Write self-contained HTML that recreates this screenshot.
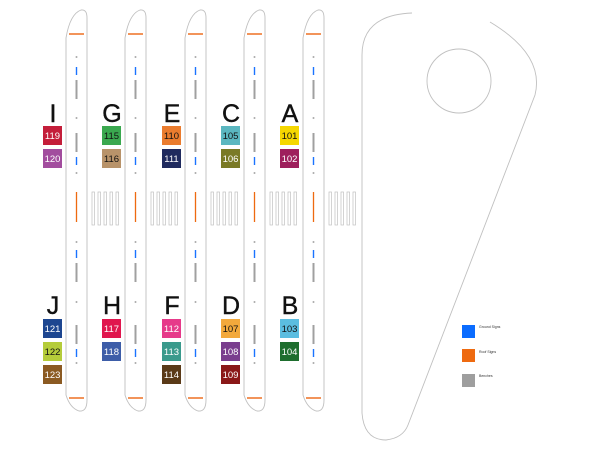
<!DOCTYPE html>
<html><head><style>body{margin:0;background:#fff}svg{display:block}</style></head><body>
<svg width="600" height="450" viewBox="0 0 600 450" xmlns="http://www.w3.org/2000/svg" font-family="Liberation Sans, sans-serif">
<defs>
<g id="plat">
<path d="M0,38 Q4,14 15,10 Q21,9 21,18 L21,400 Q21,412 13,411 Q4,408 0,395 Z" fill="#fff" stroke="#c0c0c0" stroke-width="0.9"/>
<line x1="3" y1="34" x2="18" y2="34" stroke="#ee7a30" stroke-width="1.6"/>
<line x1="3" y1="398" x2="18" y2="398" stroke="#ee7a30" stroke-width="1.6"/>
<line x1="10.5" y1="192" x2="10.5" y2="222" stroke="#ee6a10" stroke-width="1.3"/>
<g stroke="#1a73ff" stroke-width="1.4"><line x1="10.5" y1="67" x2="10.5" y2="75"/><line x1="10.5" y1="157" x2="10.5" y2="165"/><line x1="10.5" y1="250" x2="10.5" y2="258"/><line x1="10.5" y1="349" x2="10.5" y2="357"/></g>
<g stroke="#a0a0a0" stroke-width="2"><line x1="10.5" y1="80" x2="10.5" y2="99"/><line x1="10.5" y1="133" x2="10.5" y2="152"/><line x1="10.5" y1="263" x2="10.5" y2="282"/><line x1="10.5" y1="325" x2="10.5" y2="344"/></g>
<g fill="#aaa"><circle cx="10.5" cy="57" r="1"/><circle cx="10.5" cy="118" r="1"/><circle cx="10.5" cy="173" r="1"/><circle cx="10.5" cy="242" r="1"/><circle cx="10.5" cy="302" r="1"/><circle cx="10.5" cy="363" r="1"/></g>
</g>
<g id="bench" fill="#fff" stroke="#c0c0c0" stroke-width="0.7">
<rect x="0" y="192" width="2.5" height="33"/><rect x="6" y="192" width="2.5" height="33"/><rect x="12" y="192" width="2.5" height="33"/><rect x="18" y="192" width="2.5" height="33"/><rect x="24" y="192" width="2.5" height="33"/>
</g>
</defs>
<use href="#bench" x="92"/><use href="#bench" x="151"/><use href="#bench" x="211"/><use href="#bench" x="270"/><use href="#bench" x="329"/>
<use href="#plat" x="66"/><use href="#plat" x="125"/><use href="#plat" x="185"/><use href="#plat" x="244"/><use href="#plat" x="303"/>
<g fill="none" stroke="#c0c0c0" stroke-width="0.9">
<path d="M412,13 Q362,15 362,55 L362,413 Q364,440 386,440 Q403,438 408,425 L535,95 Q545,55 490,22"/>
<circle cx="459" cy="81" r="32"/>
</g>
<g font-size="25" fill="#111" text-anchor="middle" stroke="#111" stroke-width="0.4">
<text x="53" y="122">I</text><text x="112" y="122">G</text><text x="172" y="122">E</text><text x="231" y="122">C</text><text x="290" y="122">A</text>
<text x="53" y="314">J</text><text x="112" y="314">H</text><text x="172" y="314">F</text><text x="231" y="314">D</text><text x="290" y="314">B</text>
</g>
<g font-size="9.5" text-anchor="middle">
<rect x="43" y="126" width="19" height="19" fill="#c41e3a"/><text x="52.5" y="139" fill="#fff">119</text>
<rect x="43" y="149" width="19" height="19" fill="#a24d9e"/><text x="52.5" y="162" fill="#fff">120</text>
<rect x="102" y="126" width="19" height="19" fill="#3aa84f"/><text x="111.5" y="139" fill="#111">115</text>
<rect x="102" y="149" width="19" height="19" fill="#b8936a"/><text x="111.5" y="162" fill="#111">116</text>
<rect x="162" y="126" width="19" height="19" fill="#ea7c2e"/><text x="171.5" y="139" fill="#111">110</text>
<rect x="162" y="149" width="19" height="19" fill="#1f2a5e"/><text x="171.5" y="162" fill="#fff">111</text>
<rect x="221" y="126" width="19" height="19" fill="#5bb7c0"/><text x="230.5" y="139" fill="#111">105</text>
<rect x="221" y="149" width="19" height="19" fill="#7a7a26"/><text x="230.5" y="162" fill="#fff">106</text>
<rect x="280" y="126" width="19" height="19" fill="#f5d700"/><text x="289.5" y="139" fill="#111">101</text>
<rect x="280" y="149" width="19" height="19" fill="#9e1f5c"/><text x="289.5" y="162" fill="#fff">102</text>
<rect x="43" y="319" width="19" height="19" fill="#1d4690"/><text x="52.5" y="332" fill="#fff">121</text>
<rect x="43" y="342" width="19" height="19" fill="#b5cc3a"/><text x="52.5" y="355" fill="#111">122</text>
<rect x="43" y="365" width="19" height="19" fill="#8b5a22"/><text x="52.5" y="378" fill="#fff">123</text>
<rect x="102" y="319" width="19" height="19" fill="#e0164e"/><text x="111.5" y="332" fill="#fff">117</text>
<rect x="102" y="342" width="19" height="19" fill="#3d5da8"/><text x="111.5" y="355" fill="#fff">118</text>
<rect x="162" y="319" width="19" height="19" fill="#e63a8a"/><text x="171.5" y="332" fill="#fff">112</text>
<rect x="162" y="342" width="19" height="19" fill="#3a9a8c"/><text x="171.5" y="355" fill="#fff">113</text>
<rect x="162" y="365" width="19" height="19" fill="#5a3a18"/><text x="171.5" y="378" fill="#fff">114</text>
<rect x="221" y="319" width="19" height="19" fill="#f3a93c"/><text x="230.5" y="332" fill="#111">107</text>
<rect x="221" y="342" width="19" height="19" fill="#7a3e8e"/><text x="230.5" y="355" fill="#fff">108</text>
<rect x="221" y="365" width="19" height="19" fill="#8a1818"/><text x="230.5" y="378" fill="#fff">109</text>
<rect x="280" y="319" width="19" height="19" fill="#5bbde0"/><text x="289.5" y="332" fill="#111">103</text>
<rect x="280" y="342" width="19" height="19" fill="#1e6e2e"/><text x="289.5" y="355" fill="#fff">104</text>
</g>
<rect x="462" y="325" width="13" height="13" fill="#0a6cff"/>
<rect x="462" y="349" width="13" height="13" fill="#ee6a10"/>
<rect x="462" y="374" width="13" height="13" fill="#9e9e9e"/>
<g font-size="3.5" fill="#333"><text x="479" y="328">Ground Signs</text><text x="479" y="353">Roof Signs</text><text x="479" y="377">Benches</text></g>
</svg>
</body></html>
